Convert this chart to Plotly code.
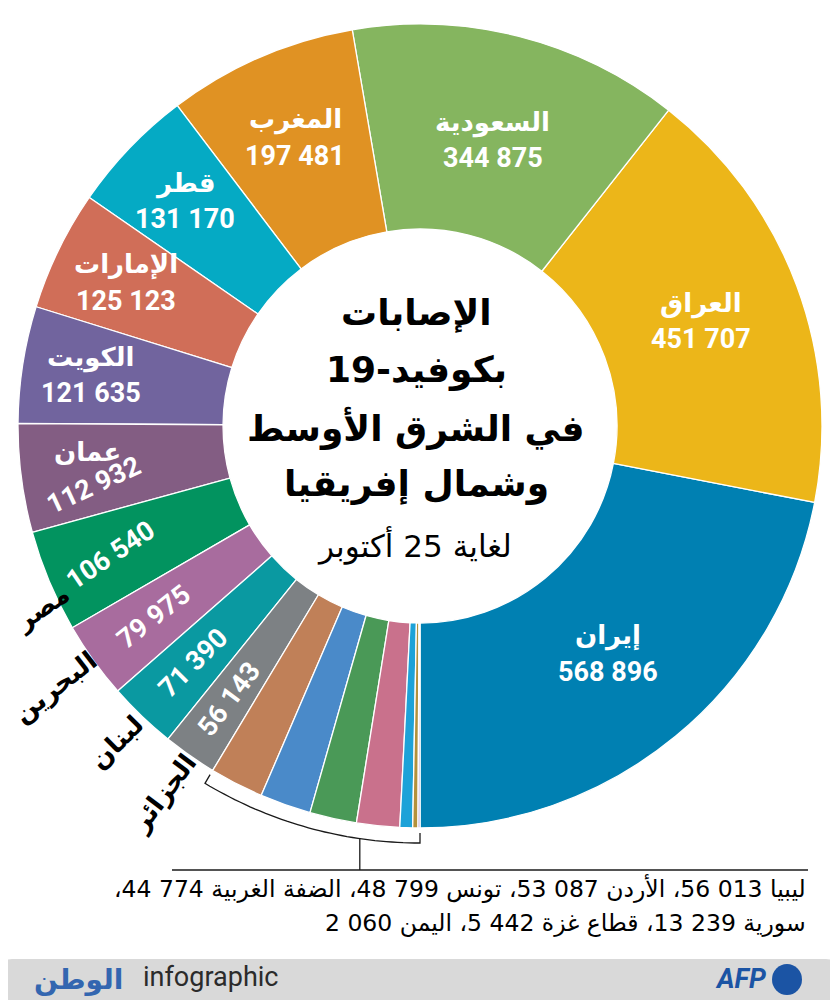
import math
import plotly.graph_objects as go

# cases of covid-19 up to 25 October, in the order drawn (counter-clockwise from 6 o'clock)
countries = ["إيران", "العراق", "السعودية", "المغرب", "قطر", "الإمارات", "الكويت", "عمان",
             "مصر", "البحرين", "لبنان", "الجزائر",
             "ليبيا", "الأردن", "تونس", "الضفة الغربية", "سورية", "قطاع غزة", "اليمن"]
cases = [568896, 451707, 344875, 197481, 131170, 125123, 121635, 112932,
         106540, 79975, 71390, 56143,
         56013, 53087, 48799, 44774, 13239, 5442, 2060]
colors = ["#0080b2", "#ecb619", "#85b55f", "#e09223", "#05aac4", "#d06e58", "#71649e", "#835d83",
          "#02935f", "#a86c9e", "#0a99a1", "#7d8184",
          "#c08058", "#4a8ac9", "#4a9957", "#c9718c", "#1da2d8", "#b3913b", "#a98bc6"]

title_lines = ["الإصابات", "بكوفيد-19", "في الشرق الأوسط", "وشمال إفريقيا"]
subtitle = "لغاية 25 أكتوبر"

# geometry of the ring, in page pixels (the page body adds an 8px margin)
W, H, OFF = 838, 1000, 8
CX, CY, R_OUT = 420, 426, 402
HOLE = 0.49

# label styles per slice (only the first 12 get labels on the ring)
label_r = [295, 300, 295, 314, 325, 327, 333, 332, 335, 328, 328, 333]
rot_num = {7: -25, 8: -34, 9: -38, 10: -45, 11: -53}   # rotated numbers
out_name = {8: (420, 3.0), 9: (449, 0), 10: (438, 0), 11: (448, 0)}  # names outside: radius, angle shift
n_small = 12                                            # the rest go to the note

AR = "DejaVu Sans"
NUM = "Roboto, DejaVu Sans"
NAME_SIZE, NUM_SIZE = 26, 27


def fmt(v):
    return f"{v:,}".replace(",", "\u00a0")


total = sum(cases)
starts, mids = [], []
acc = 0
for v in cases:
    starts.append(acc / total * 360)
    mids.append((acc + v / 2) / total * 360)
    acc += v


def pos(theta, r):
    t = math.radians(theta)
    return CX + r * math.sin(t), CY + r * math.cos(t)


fx, fy = CX - OFF, H - (CY - OFF)
fig = go.Figure()
fig.add_trace(go.Pie(
    labels=countries, values=cases, sort=False, direction="counterclockwise",
    rotation=180 - 360 * cases[0] / total,
    hole=HOLE, textinfo="none", hoverinfo="label+value",
    marker=dict(colors=colors, line=dict(color="white", width=1.3)),
    domain=dict(x=[(fx - R_OUT) / W, (fx + R_OUT) / W],
                y=[(fy - R_OUT) / H, (fy + R_OUT) / H]),
    showlegend=False,
))

ann = []
for i in range(n_small):
    x, y = pos(mids[i], label_r[i])
    if i not in rot_num:
        ann.append(dict(x=x, y=y - 18, text=f"<b>{countries[i]}</b>",
                        font=dict(family=AR, size=NAME_SIZE, color="white")))
        ann.append(dict(x=x, y=y + 18, text=f"<b>{fmt(cases[i])}</b>",
                        font=dict(family=NUM, size=NUM_SIZE, color="white")))
    elif i == 7:
        ann.append(dict(x=x - 3, y=y - 17, text=f"<b>{countries[i]}</b>",
                        font=dict(family=AR, size=NAME_SIZE, color="white")))
        ann.append(dict(x=x + 3, y=y + 16, text=f"<b>{fmt(cases[i])}</b>", textangle=rot_num[i],
                        font=dict(family=NUM, size=NUM_SIZE, color="white")))
    else:
        ann.append(dict(x=x, y=y, text=f"<b>{fmt(cases[i])}</b>", textangle=rot_num[i],
                        font=dict(family=NUM, size=NUM_SIZE, color="white")))
        rn, shift = out_name[i]
        nx, ny = pos(mids[i] + shift, rn)
        ann.append(dict(x=nx, y=ny, text=f"<b>{countries[i]}</b>", textangle=rot_num[i],
                        borderpad=0, font=dict(family=AR, size=NAME_SIZE, color="black")))

# centre title
title_y = [312, 370, 428, 484]
for line, ty in zip(title_lines, title_y):
    ann.append(dict(x=416, y=ty, text=f"<b>{line}</b>",
                    font=dict(family=AR, size=36, color="black")))
ann.append(dict(x=414, y=545, text=subtitle, font=dict(family=AR, size=31, color="black")))

# note listing the small slices
small = [f"{countries[i]} {fmt(cases[i])}" for i in range(n_small, len(cases))]
note1 = "\u200f" + "، ".join(small[:4]) + "،\u200f"
note2 = "\u200f" + "، ".join(small[4:]) + "\u200f"
ann.append(dict(x=808, y=888, text=note1, xanchor="right",
                font=dict(family=AR, size=23.5, color="black")))
ann.append(dict(x=808, y=923, text=note2, xanchor="right",
                font=dict(family=AR, size=23.5, color="black")))

# footer
ann.append(dict(x=32, y=979, text="<b>الوطن</b>", xanchor="left",
                font=dict(family=AR, size=28, color="#3366b0")))
ann.append(dict(x=141, y=977, text="infographic", xanchor="left",
                font=dict(family="Roboto", size=27, color="#2b2b2b")))
ann.append(dict(x=768, y=979, text="<b><i>AFP</i></b>", xanchor="right",
                font=dict(family="Roboto", size=27, color="#1b54a4")))

for a in ann:
    a.update(xref="x", yref="y", showarrow=False)
    a.setdefault("xanchor", "center")

shapes = []
# bracket around the small slices
R_BR = 417
a0 = starts[n_small]
pts = [pos(a0 + (360 - a0) * k / 40, R_BR) for k in range(41)]
t0 = pos(a0, R_BR - 10)
t1 = pos(360, R_BR - 10)
path = f"M {t0[0]:.1f} {t0[1]:.1f} " + " ".join(f"L {px:.1f} {py:.1f}" for px, py in pts)
path += f" L {t1[0]:.1f} {t1[1]:.1f}"
shapes.append(dict(type="path", path=path, line=dict(color="#1a1a1a", width=1.3)))
sx, sy = pos(351.7, R_BR)
shapes.append(dict(type="line", x0=sx, x1=sx, y0=sy, y1=870, line=dict(color="#1a1a1a", width=1.3)))
shapes.append(dict(type="line", x0=172, x1=808, y0=870, y1=870, line=dict(color="#1a1a1a", width=1.3)))

# footer bar with rounded top corners
shapes.append(dict(type="path",
                   path="M 0 1010 L 0 971 Q 0 959 12 959 L 826 959 Q 838 959 838 971 L 838 1010 Z",
                   fillcolor="#d9d9d9", line=dict(width=0), layer="below"))
shapes.append(dict(type="circle", x0=772, x1=802, y0=964, y1=995,
                   fillcolor="#1b54a4", line=dict(width=0)))

for s in shapes:
    s.update(xref="x", yref="y")

fig.update_layout(
    width=W, height=H,
    margin=dict(l=0, r=0, t=0, b=0),
    paper_bgcolor="white", plot_bgcolor="rgba(0,0,0,0)",
    xaxis=dict(range=[OFF, W + OFF], visible=False, fixedrange=True),
    yaxis=dict(range=[H + OFF, OFF], visible=False, fixedrange=True),
    annotations=ann, shapes=shapes,
)

fig.write_html("out.html")
